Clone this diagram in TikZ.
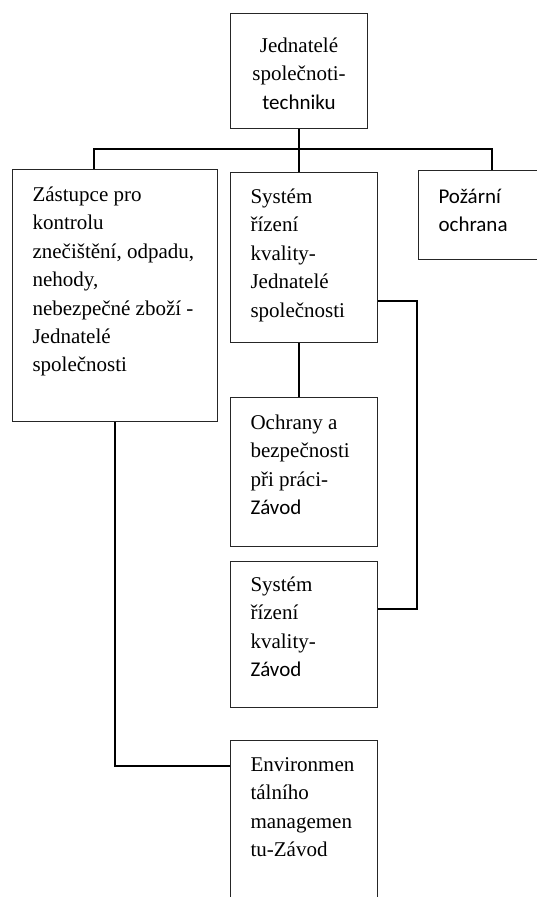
\documentclass[tikz,border=0pt]{standalone}
\usepackage{fontspec}
\setmainfont{Liberation Serif}
\newfontfamily\calibri{Carlito}
\usetikzlibrary{calc}

\newcommand{\unitbody}[4]{\parbox[t][#2][t]{#1}{\raggedright\leftskip=20pt\relax\rule{0pt}{#3}#4}}

\begin{document}
\begin{tikzpicture}[x=1pt,y=-1pt,
      every node/.style={font=\fontsize{21}{28.4}\selectfont},
      unit/.style={draw=black!85,line width=1.1pt,anchor=north west,inner sep=0pt},
      link/.style={line width=2pt}]
    \clip (0,0) rectangle (537,897);
    \node[unit](chief) at (230,13){\parbox[t][115pt][t]{137pt}{\centering\rule{0pt}{39pt}Jednatelé\\ společnoti-\\ {\calibri techniku}}};
    \node[unit](zastup) at (12,169){\unitbody{205pt}{252pt}{32pt}{Zástupce pro\\ kontrolu\\ znečištění, odpadu,\\ nehody,\\ nebezpečné zboží -\\ Jednatelé\\ společnosti}};
    \node[unit](qjedn) at (230,172){\unitbody{147pt}{170pt}{31pt}{Systém\\ řízení\\ kvality-\\ Jednatelé\\ společnosti}};
    \node[unit](pozar) at (418,170){\unitbody{130pt}{89pt}{33pt}{\calibri Požární\\ ochrana}};
    \node[unit](bozp) at (230,397){\unitbody{147pt}{149pt}{32pt}{Ochrany a\\ bezpečnosti\\ při práci-\\ {\calibri Závod}}};
    \node[unit](qzavod) at (230,561){\unitbody{147pt}{146pt}{30pt}{Systém\\ řízení\\ kvality-\\ {\calibri Závod}}};
    \node[unit](envi) at (230,740){\unitbody{147pt}{200pt}{31pt}{Environmen\\ tálního\\ managemen\\ tu-Závod}};

    \coordinate(busL) at (94,149);
    \coordinate(busR) at (492,149);
    \coordinate(qrailT) at (417,301);
    \coordinate(qrailB) at (417,609);
    \coordinate(envturn) at (115,766);
    \draw[link] (chief.south) -- (chief.south |- qjedn.north);
    \draw[link] (busL |- zastup.north) -- (busL) -- (busR) -- (busR |- pozar.north);
    \draw[link] (chief.south |- qjedn.south) -- (chief.south |- bozp.north);
    \draw[link] (qjedn.east |- qrailT) -- (qrailT) -- (qrailB) -- (qzavod.east |- qrailB);
    \draw[link] (zastup.south) |- (envi.west |- envturn);

\end{tikzpicture}
\end{document}
